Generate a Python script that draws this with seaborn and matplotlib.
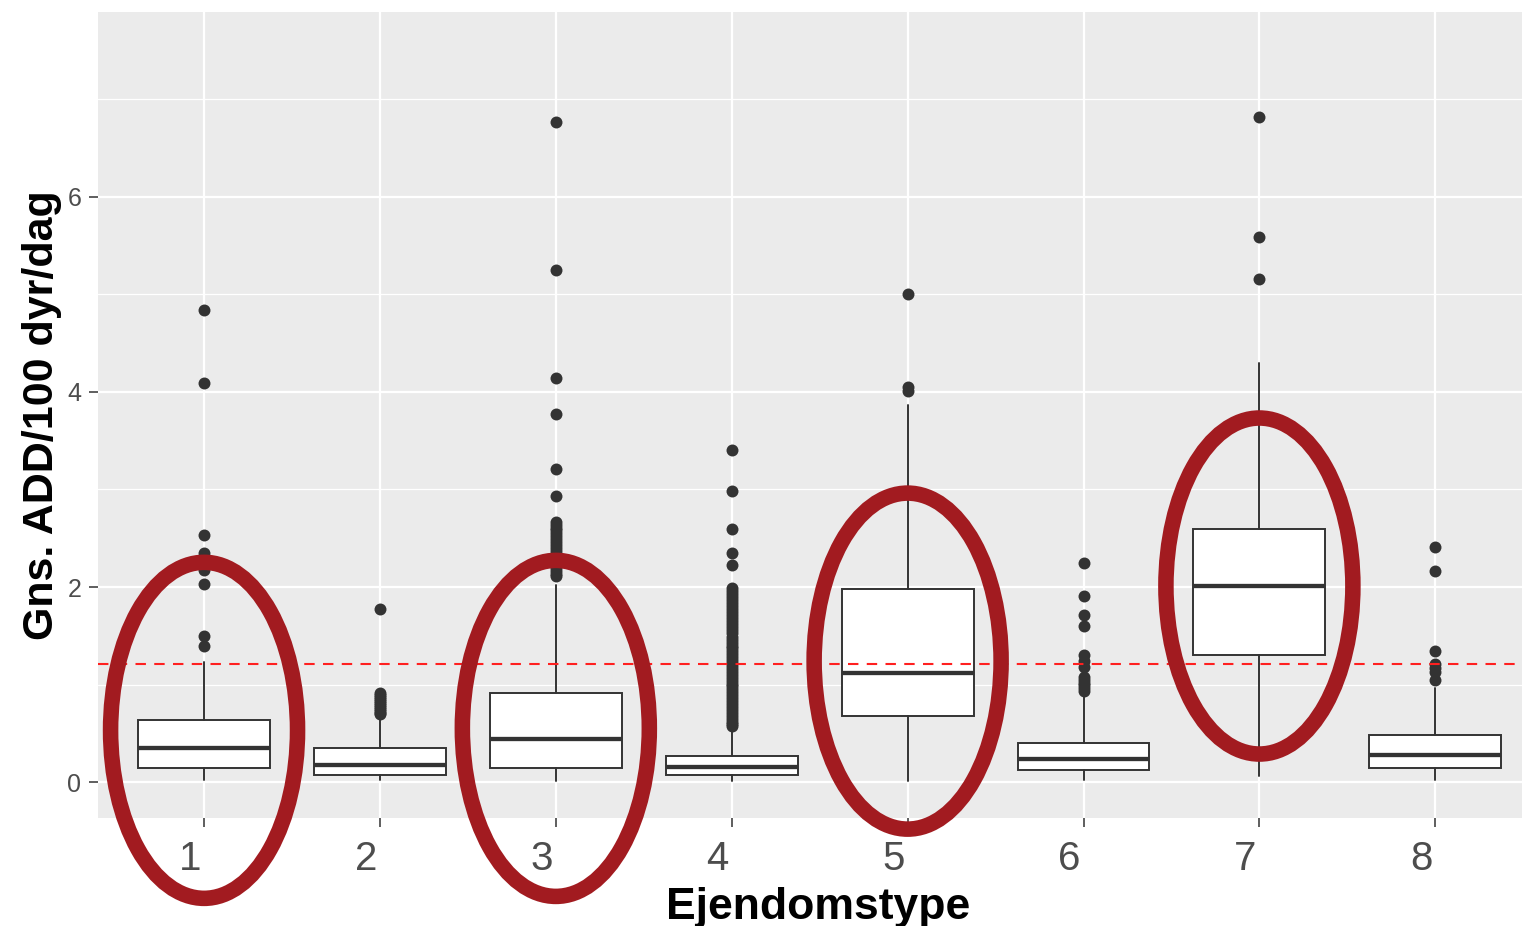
import matplotlib
matplotlib.use("Agg")
import matplotlib.pyplot as plt
import matplotlib.transforms as mtransforms
from matplotlib.patches import Ellipse
import pandas as pd
import seaborn as sns

# ---------------- data ----------------
categories = ["1", "2", "3", "4", "5", "6", "7", "8"]
whisker_low = [0.02, 0.02, 0.01, 0.01, 0.01, 0.02, 0.06, 0.02]
q1_values = [0.14, 0.07, 0.14, 0.07, 0.68, 0.12, 1.30, 0.14]
median_values = [0.35, 0.17, 0.44, 0.15, 1.12, 0.24, 2.01, 0.28]
q3_values = [0.64, 0.35, 0.91, 0.27, 1.98, 0.40, 2.59, 0.48]
whisker_high = [1.23, 0.69, 2.02, 0.55, 3.87, 0.88, 4.30, 0.96]

outliers_1 = [4.84, 4.09, 2.53, 2.35, 2.28, 2.17, 2.03, 1.50, 1.39]
outliers_2 = [1.77, 0.91, 0.89, 0.87, 0.85, 0.83, 0.81, 0.79, 0.77, 0.75,
              0.73, 0.71, 0.70]
outliers_3 = [6.77, 5.25, 4.14, 3.77, 3.21, 2.93, 2.67, 2.64, 2.61, 2.58,
              2.55, 2.52, 2.49, 2.46, 2.43, 2.40, 2.37, 2.34, 2.31, 2.28,
              2.25, 2.22, 2.19, 2.16, 2.13, 2.11]
outliers_4 = [3.41, 2.98, 2.59, 2.35, 2.23, 1.99, 1.96, 1.93, 1.90, 1.87,
              1.84, 1.81, 1.77, 1.74, 1.71, 1.68, 1.65, 1.62, 1.59, 1.56,
              1.53, 1.49, 1.46, 1.43, 1.40, 1.37, 1.34, 1.31, 1.28, 1.25,
              1.22, 1.19, 1.16, 1.13, 1.10, 1.07, 1.04, 1.01, 0.98, 0.95,
              0.92, 0.89, 0.86, 0.83, 0.80, 0.77, 0.74, 0.71, 0.68, 0.65,
              0.62, 0.59, 0.57]
outliers_5 = [5.01, 4.05, 4.01]
outliers_6 = [2.25, 1.91, 1.71, 1.60, 1.30, 1.24, 1.18, 1.08, 1.05, 1.02,
              0.99, 0.96, 0.93]
outliers_7 = [6.82, 5.59, 5.16]
outliers_8 = [2.41, 2.16, 1.34, 1.21, 1.17, 1.13, 1.05]

reference_level = 1.21
highlighted = ["1", "3", "5", "7"]
highlight_mid = [0.53, 0.55, 1.24, 2.01]

x_title = "Ejendomstype"
y_title = "Gns. ADD/100 dyr/dag"

# ---------------- style ----------------
sns.set_theme(style="darkgrid", rc={
    "axes.facecolor": "#EBEBEB",
    "grid.color": "white",
    "axes.edgecolor": "#EBEBEB",
})
plt.rcParams["font.family"] = ["Liberation Sans", "DejaVu Sans"]

W, H = 1522, 926
fig = plt.figure(figsize=(W / 100, H / 100), dpi=100)
ax = fig.add_axes([98 / W, 108 / H, 1424 / W, 806 / H])
ax.set_facecolor("#EBEBEB")

outlier_lists = [outliers_1, outliers_2, outliers_3, outliers_4,
                 outliers_5, outliers_6, outliers_7, outliers_8]
df = pd.DataFrame(
    [(c, v) for c, vals in zip(categories, outlier_lists) for v in vals],
    columns=[x_title, "ADD"],
)

sns.stripplot(data=df, x=x_title, y="ADD", order=categories, jitter=False,
              color="#333333", size=8.6, linewidth=0, ax=ax, zorder=4)

stats = [dict(whislo=lo, q1=a, med=m, q3=b, whishi=hi, fliers=[])
         for lo, a, m, b, hi in zip(whisker_low, q1_values, median_values,
                                    q3_values, whisker_high)]
ax.bxp(stats, positions=list(range(len(categories))), widths=0.75,
       patch_artist=True, showfliers=False, showcaps=False,
       manage_ticks=False, zorder=3,
       boxprops=dict(facecolor="white", edgecolor="#333333", linewidth=1.4),
       whiskerprops=dict(color="#333333", linewidth=1.4),
       medianprops=dict(color="#333333", linewidth=3.1,
                        solid_capstyle="butt"))

ax.axhline(reference_level, color="#FF2020", linestyle=(0, (5, 4)),
           linewidth=1.5, zorder=5)

for cat, mid in zip(highlighted, highlight_mid):
    xi = categories.index(cat)
    ax.add_patch(Ellipse((xi, mid), width=1.063, height=3.446,
                         fill=False, edgecolor="#A21B20", linewidth=11.2,
                         zorder=6, clip_on=False))

# ---------------- axes ----------------
ax.set_xlim(-0.603, 7.493)
ax.set_ylim(-0.369, 7.897)
ax.set_xticks(range(len(categories)))
ax.set_xticklabels(categories)
ax.set_yticks([0, 2, 4, 6])
ax.set_yticks([1, 3, 5, 7], minor=True)

ax.grid(False)
ax.grid(which="major", axis="both", color="white", linewidth=1.6)
ax.grid(which="minor", axis="y", color="white", linewidth=0.9)
ax.set_axisbelow(True)
for s in ax.spines.values():
    s.set_visible(False)

ax.tick_params(axis="x", which="major", length=6.5, width=1.1,
               color="#333333", labelsize=29, labelcolor="#4D4D4D", pad=9,
               bottom=True)
ax.tick_params(axis="y", which="major", length=6.5, width=1.1,
               color="#333333", labelsize=18, labelcolor="#4D4D4D", pad=5.5,
               left=True)
ax.tick_params(which="minor", length=0)

offset = mtransforms.ScaledTranslation(-14 / 100, 0, fig.dpi_scale_trans)
for lab in ax.get_xticklabels():
    lab.set_transform(lab.get_transform() + offset)

ax.set_xlabel(x_title, fontsize=32, fontweight="bold", color="black")
ax.set_ylabel(y_title, fontsize=31, fontweight="bold", color="black")
ax.xaxis.set_label_coords(0.5056, -0.086)
ax.yaxis.set_label_coords(-0.0253, 0.5)

fig.savefig("out.png", dpi=100, facecolor="white")
